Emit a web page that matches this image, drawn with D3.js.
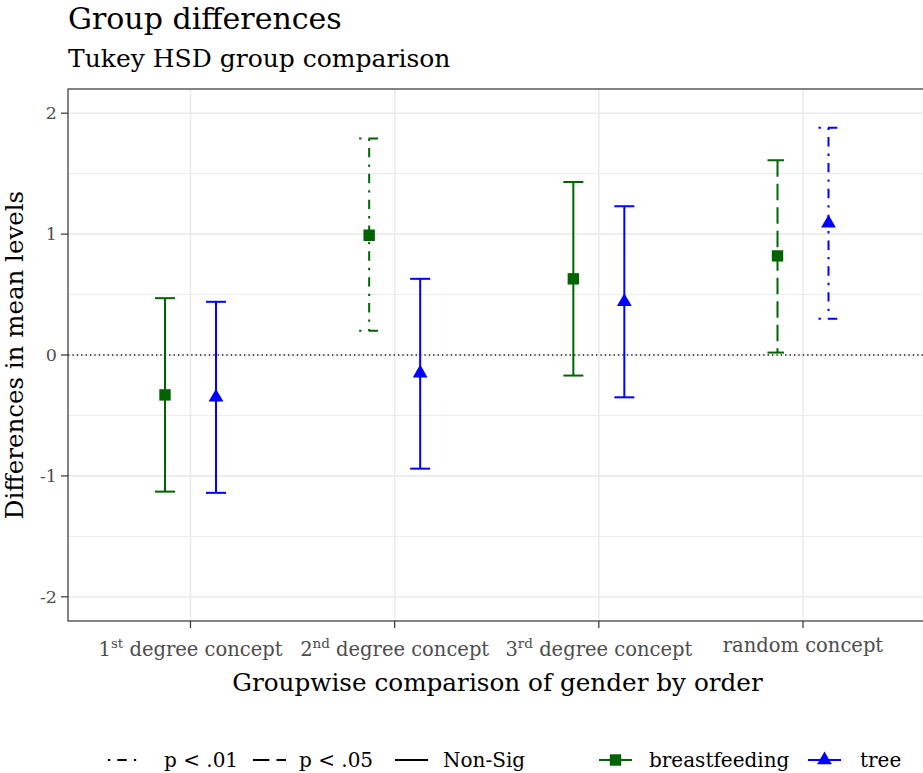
<!DOCTYPE html>
<html>
<head>
<meta charset="utf-8">
<script src="https://cdn.jsdelivr.net/npm/d3@7"></script>
<style>
  body { margin: 0; background: #fff; }
  svg { display: block; font-family: "DejaVu Serif", serif; }
</style>
</head>
<body>
<div id="chart"></div>
<script>

const categories = ["1st degree concept", "2nd degree concept", "3rd degree concept", "random concept"];
const groups = ["breastfeeding", "tree"];
const sigLevels = ["p < .01", "p < .05", "Non-Sig"];

const breastMean  = [-0.33, 0.99, 0.63, 0.82];
const breastLower = [-1.13, 0.20, -0.17, 0.02];
const breastUpper = [0.47, 1.79, 1.43, 1.61];
const breastSig   = ["Non-Sig", "p < .01", "Non-Sig", "p < .05"];

const treeMean  = [-0.35, -0.15, 0.44, 1.09];
const treeLower = [-1.14, -0.94, -0.35, 0.30];
const treeUpper = [0.44, 0.63, 1.23, 1.88];
const treeSig   = ["Non-Sig", "Non-Sig", "Non-Sig", "p < .01"];

const yTicks = [-2, -1, 0, 1, 2];
const yMinor = [-1.5, -0.5, 0.5, 1.5];

const rows = categories.flatMap((cat, i) => [
  {cat, group: "breastfeeding", mean: breastMean[i], lo: breastLower[i], hi: breastUpper[i], sig: breastSig[i]},
  {cat, group: "tree", mean: treeMean[i], lo: treeLower[i], hi: treeUpper[i], sig: treeSig[i]}
]);


// scales
// ======

const W = 923, H = 773;
const panel = {left: 68, right: 925.5, top: 89, bottom: 621};

const x = d3.scalePoint(categories, [panel.left, panel.right]).padding(0.6);
const dodge = d3.scalePoint(groups, [-25.5, 25.5]);
const y = d3.scaleLinear([-2.2, 2.2], [panel.bottom, panel.top]);

const colour = d3.scaleOrdinal(groups, ["#006400", "#0000ff"]);
const U = 2.35; // size of one R lty unit in px
// dotdash "1343", longdash "73", solid
const dash = d3.scaleOrdinal(sigLevels, [[U, 3*U, 4*U, 3*U].join(","), [7*U, 3*U].join(","), "none"]);
const shape = d3.scaleOrdinal(groups, [d3.symbolSquare, d3.symbolTriangle]);
const shapeSize = d3.scaleOrdinal(groups, [130, 95]);

const LW = 2;      // error bar width
const CAP = 10;    // half cap width

const svg = d3.select('#chart').append('svg')
  .attr('width', W)
  .attr('height', H);

svg.append('clipPath').attr('id', 'clip')
  .append('rect')
    .attr('x', panel.left).attr('y', panel.top)
    .attr('width', panel.right - panel.left).attr('height', panel.bottom - panel.top);


// grid
// ----

const grid = svg.append('g');

grid.selectAll('.minor').data(yMinor).enter()
  .append('line')
    .attr('x1', panel.left).attr('x2', panel.right)
    .attr('y1', d => y(d)).attr('y2', d => y(d))
    .attr('stroke', '#ebebeb').attr('stroke-width', 1);

grid.selectAll('.majory').data(yTicks).enter()
  .append('line')
    .attr('x1', panel.left).attr('x2', panel.right)
    .attr('y1', d => y(d)).attr('y2', d => y(d))
    .attr('stroke', '#ebebeb').attr('stroke-width', 1.6);

grid.selectAll('.majorx').data(categories).enter()
  .append('line')
    .attr('x1', d => x(d)).attr('x2', d => x(d))
    .attr('y1', panel.top).attr('y2', panel.bottom)
    .attr('stroke', '#ebebeb').attr('stroke-width', 1.6);

// zero line
svg.append('line')
  .attr('x1', panel.left).attr('x2', panel.right)
  .attr('y1', y(0)).attr('y2', y(0))
  .attr('stroke', '#1a1a1a').attr('stroke-width', 1.3)
  .attr('stroke-dasharray', '1.3,3.1');


// error bars + points
// -------------------

const bars = svg.append('g').attr('clip-path', 'url(#clip)')
  .selectAll('g').data(rows).enter()
  .append('g')
    .attr('transform', d => `translate(${x(d.cat) + dodge(d.group)},0)`);

// drawn as three separate pieces like ggplot, so the dash restarts on each
const pieces = d => [
  [-CAP, y(d.hi), CAP, y(d.hi)],
  [0, y(d.hi), 0, y(d.lo)],
  [-CAP, y(d.lo), CAP, y(d.lo)]
];

bars.selectAll('line').data(d => pieces(d).map(p => ({p, d}))).enter()
  .append('line')
    .attr('x1', e => e.p[0]).attr('y1', e => e.p[1])
    .attr('x2', e => e.p[2]).attr('y2', e => e.p[3])
    .attr('stroke', e => colour(e.d.group))
    .attr('stroke-width', LW)
    .attr('stroke-dasharray', e => dash(e.d.sig));

bars.append('path')
  .attr('d', d => d3.symbol(shape(d.group), shapeSize(d.group))())
  .attr('transform', d => `translate(0,${y(d.mean)})`)
  .attr('fill', d => colour(d.group));


// panel border + axes
// -------------------

svg.append('rect')
  .attr('x', panel.left).attr('y', panel.top)
  .attr('width', panel.right - panel.left).attr('height', panel.bottom - panel.top)
  .attr('fill', 'none').attr('stroke', '#333').attr('stroke-width', 1.2);

svg.selectAll('.ytick').data(yTicks).enter()
  .append('line')
    .attr('x1', panel.left - 7).attr('x2', panel.left)
    .attr('y1', d => y(d)).attr('y2', d => y(d))
    .attr('stroke', '#333').attr('stroke-width', 1.2);

svg.selectAll('.ylab').data(yTicks).enter()
  .append('text')
    .attr('x', panel.left - 11).attr('y', d => y(d))
    .attr('dy', '0.36em')
    .attr('text-anchor', 'end')
    .attr('fill', '#4d4d4d')
    .attr('font-size', 17.5)
    .text(d => d);

svg.selectAll('.xtick').data(categories).enter()
  .append('line')
    .attr('x1', d => x(d)).attr('x2', d => x(d))
    .attr('y1', panel.bottom).attr('y2', panel.bottom + 7)
    .attr('stroke', '#333').attr('stroke-width', 1.2);

const xlab = svg.selectAll('.xlab').data(categories).enter()
  .append('text')
    .attr('x', d => x(d))
    .attr('y', d => /^\d/.test(d) ? 656 : 652)
    .attr('text-anchor', 'middle')
    .attr('fill', '#4d4d4d')
    .attr('font-size', 19.5);

xlab.each(function(d) {
  const t = d3.select(this);
  const m = d.match(/^(\d+)(st|nd|rd|th)(.*)$/);
  if (!m) { t.text(d); return; }
  t.append('tspan').text(m[1]);
  t.append('tspan').attr('dy', -8).attr('font-size', 13.5).text(m[2]);
  t.append('tspan').attr('dy', 8).text(m[3]);
});


// titles
// ------

svg.append('text')
  .attr('x', 68).attr('y', 29)
  .attr('font-size', 30)
  .text('Group differences');

svg.append('text')
  .attr('x', 68).attr('y', 67)
  .attr('font-size', 25)
  .text('Tukey HSD group comparison');

svg.append('text')
  .attr('x', (panel.left + 923) / 2 + 2).attr('y', 691)
  .attr('text-anchor', 'middle')
  .attr('font-size', 24.7)
  .text('Groupwise comparison of gender by order');

svg.append('text')
  .attr('transform', `translate(23,${(panel.top + panel.bottom) / 2}) rotate(-90)`)
  .attr('text-anchor', 'middle')
  .attr('font-size', 24.5)
  .text('Differences in mean levels');


// legends
// -------

const LEG_Y = 760;
const KEY_W = 33;
const sigKeyX = [108, 253, 395];
const sigTextX = [164, 299, 443];
const grpKeyX = [599, 808];
const grpTextX = [649, 860];

const sigLeg = svg.selectAll('.sigleg').data(sigLevels).enter()
  .append('g');

sigLeg.append('line')
  .attr('x1', (d, i) => sigKeyX[i]).attr('x2', (d, i) => sigKeyX[i] + KEY_W)
  .attr('y1', LEG_Y).attr('y2', LEG_Y)
  .attr('stroke', '#000').attr('stroke-width', LW)
  .attr('stroke-dasharray', d => dash(d));

sigLeg.append('text')
  .attr('x', (d, i) => sigTextX[i]).attr('y', LEG_Y).attr('dy', '0.36em')
  .attr('font-size', 20)
  .text(d => d);

const grpLeg = svg.selectAll('.grpleg').data(groups).enter()
  .append('g');

grpLeg.append('line')
  .attr('x1', (d, i) => grpKeyX[i]).attr('x2', (d, i) => grpKeyX[i] + KEY_W)
  .attr('y1', LEG_Y).attr('y2', LEG_Y)
  .attr('stroke', d => colour(d)).attr('stroke-width', LW);

grpLeg.append('path')
  .attr('d', d => d3.symbol(shape(d), shapeSize(d))())
  .attr('transform', (d, i) => `translate(${grpKeyX[i] + KEY_W / 2},${LEG_Y})`)
  .attr('fill', d => colour(d));

grpLeg.append('text')
  .attr('x', (d, i) => grpTextX[i]).attr('y', LEG_Y).attr('dy', '0.36em')
  .attr('font-size', 20)
  .text(d => d);

</script>
</body>
</html>
